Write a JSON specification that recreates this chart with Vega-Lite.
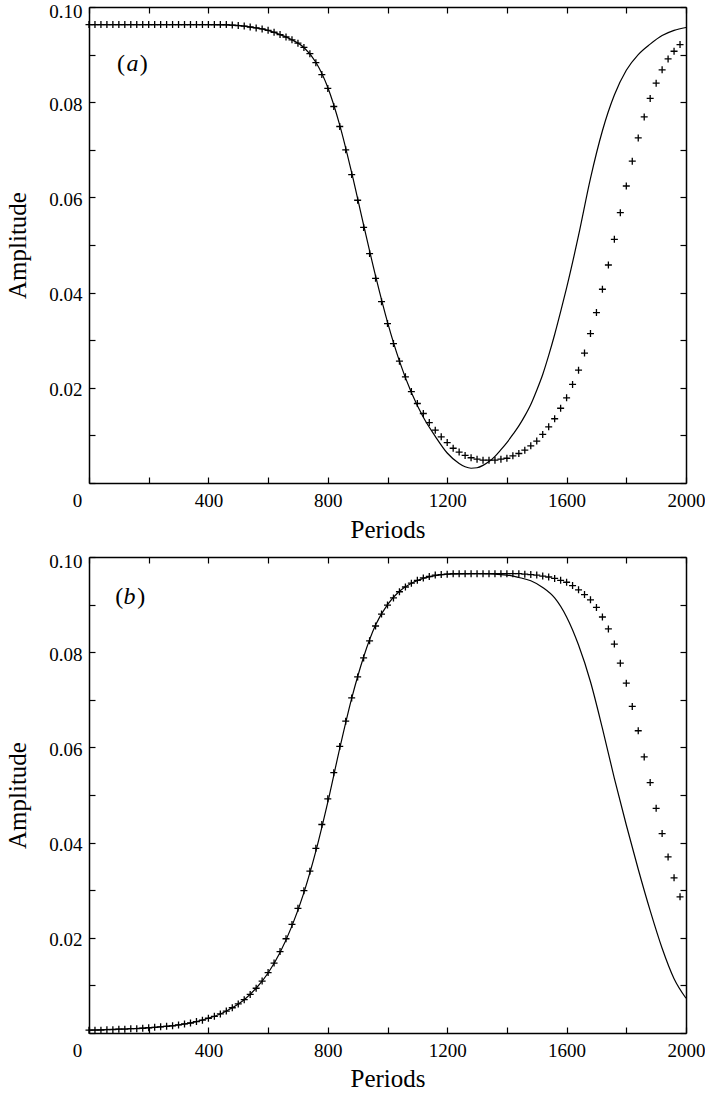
{
  "$schema": "https://vega.github.io/schema/vega-lite/v6.json",
  "background": "white",
  "padding": {"left": 5, "top": 2, "right": 0, "bottom": 0},
  "spacing": 74,
  "bounds": "flush",
  "config": {
    "font": "Liberation Serif",
    "view": {"stroke": null},
    "axis": {
      "labelFont": "Liberation Serif",
      "titleFont": "Liberation Serif",
      "labelFontSize": 19,
      "titleFontSize": 25,
      "titleFontWeight": "normal",
      "labelColor": "black",
      "titleColor": "black",
      "domainColor": "black",
      "domainWidth": 1.5,
      "tickColor": "black",
      "tickWidth": 1.2,
      "tickSize": -6,
      "grid": false,
      "labelFlush": false,
      "labelOverlap": false
    }
  },
  "datasets": {
    "a_line": [
      {"period": 0, "amp": 0.0963}, {"period": 200, "amp": 0.0963}, {"period": 400, "amp": 0.0963},
      {"period": 480, "amp": 0.0962}, {"period": 520, "amp": 0.0960}, {"period": 560, "amp": 0.0956},
      {"period": 600, "amp": 0.0951}, {"period": 640, "amp": 0.0942}, {"period": 680, "amp": 0.0931},
      {"period": 720, "amp": 0.0915}, {"period": 760, "amp": 0.0884}, {"period": 800, "amp": 0.0831},
      {"period": 840, "amp": 0.0752}, {"period": 880, "amp": 0.0652}, {"period": 920, "amp": 0.0542},
      {"period": 960, "amp": 0.0435}, {"period": 1000, "amp": 0.0338}, {"period": 1040, "amp": 0.0256},
      {"period": 1080, "amp": 0.0190}, {"period": 1120, "amp": 0.0138}, {"period": 1160, "amp": 0.0098},
      {"period": 1200, "amp": 0.0063}, {"period": 1240, "amp": 0.0041}, {"period": 1260, "amp": 0.0034},
      {"period": 1280, "amp": 0.0031}, {"period": 1300, "amp": 0.0032}, {"period": 1320, "amp": 0.0037},
      {"period": 1340, "amp": 0.0045}, {"period": 1360, "amp": 0.0056}, {"period": 1380, "amp": 0.0070},
      {"period": 1400, "amp": 0.0085}, {"period": 1420, "amp": 0.0102}, {"period": 1440, "amp": 0.0120},
      {"period": 1460, "amp": 0.0141}, {"period": 1480, "amp": 0.0165}, {"period": 1500, "amp": 0.0195},
      {"period": 1520, "amp": 0.0228}, {"period": 1540, "amp": 0.0268}, {"period": 1560, "amp": 0.0312},
      {"period": 1580, "amp": 0.0360}, {"period": 1600, "amp": 0.0410}, {"period": 1640, "amp": 0.0520},
      {"period": 1680, "amp": 0.0640}, {"period": 1720, "amp": 0.0740}, {"period": 1760, "amp": 0.0815},
      {"period": 1800, "amp": 0.0867}, {"period": 1840, "amp": 0.0900}, {"period": 1880, "amp": 0.0922},
      {"period": 1920, "amp": 0.0940}, {"period": 1960, "amp": 0.0951}, {"period": 2000, "amp": 0.0957}
    ],
    "a_pts": [
      {"period": 0, "amp": 0.0963}, {"period": 20, "amp": 0.0963}, {"period": 40, "amp": 0.0963}, {"period": 60, "amp": 0.0963},
      {"period": 80, "amp": 0.0963}, {"period": 100, "amp": 0.0963}, {"period": 120, "amp": 0.0963}, {"period": 140, "amp": 0.0963},
      {"period": 160, "amp": 0.0963}, {"period": 180, "amp": 0.0963}, {"period": 200, "amp": 0.0963}, {"period": 220, "amp": 0.0963},
      {"period": 240, "amp": 0.0963}, {"period": 260, "amp": 0.0963}, {"period": 280, "amp": 0.0963}, {"period": 300, "amp": 0.0963},
      {"period": 320, "amp": 0.0963}, {"period": 340, "amp": 0.0963}, {"period": 360, "amp": 0.0963}, {"period": 380, "amp": 0.0963},
      {"period": 400, "amp": 0.0963}, {"period": 420, "amp": 0.0963}, {"period": 440, "amp": 0.0963}, {"period": 460, "amp": 0.0963},
      {"period": 480, "amp": 0.0962}, {"period": 500, "amp": 0.0961}, {"period": 520, "amp": 0.0960}, {"period": 540, "amp": 0.0958},
      {"period": 560, "amp": 0.0956}, {"period": 580, "amp": 0.0954}, {"period": 600, "amp": 0.0951}, {"period": 620, "amp": 0.0947},
      {"period": 640, "amp": 0.0942}, {"period": 660, "amp": 0.0937}, {"period": 680, "amp": 0.0931}, {"period": 700, "amp": 0.0924},
      {"period": 720, "amp": 0.0915}, {"period": 740, "amp": 0.0902}, {"period": 760, "amp": 0.0883}, {"period": 780, "amp": 0.0858},
      {"period": 800, "amp": 0.0829}, {"period": 820, "amp": 0.0791}, {"period": 840, "amp": 0.0749}, {"period": 860, "amp": 0.0700},
      {"period": 880, "amp": 0.0648}, {"period": 900, "amp": 0.0594}, {"period": 920, "amp": 0.0537}, {"period": 940, "amp": 0.0482},
      {"period": 960, "amp": 0.0430}, {"period": 980, "amp": 0.0381}, {"period": 1000, "amp": 0.0335}, {"period": 1020, "amp": 0.0293},
      {"period": 1040, "amp": 0.0256}, {"period": 1060, "amp": 0.0223}, {"period": 1080, "amp": 0.0192}, {"period": 1100, "amp": 0.0167},
      {"period": 1120, "amp": 0.0146}, {"period": 1140, "amp": 0.0127}, {"period": 1160, "amp": 0.0111}, {"period": 1180, "amp": 0.0097},
      {"period": 1200, "amp": 0.0085}, {"period": 1220, "amp": 0.0073}, {"period": 1240, "amp": 0.0065}, {"period": 1260, "amp": 0.0058},
      {"period": 1280, "amp": 0.0053}, {"period": 1300, "amp": 0.0050}, {"period": 1320, "amp": 0.0048}, {"period": 1340, "amp": 0.0048},
      {"period": 1360, "amp": 0.0048}, {"period": 1380, "amp": 0.0050}, {"period": 1400, "amp": 0.0052}, {"period": 1420, "amp": 0.0057},
      {"period": 1440, "amp": 0.0062}, {"period": 1460, "amp": 0.0069}, {"period": 1480, "amp": 0.0078}, {"period": 1500, "amp": 0.0088},
      {"period": 1520, "amp": 0.0102}, {"period": 1540, "amp": 0.0118}, {"period": 1560, "amp": 0.0135}, {"period": 1580, "amp": 0.0157},
      {"period": 1600, "amp": 0.0179}, {"period": 1620, "amp": 0.0207}, {"period": 1640, "amp": 0.0237}, {"period": 1660, "amp": 0.0273},
      {"period": 1680, "amp": 0.0314}, {"period": 1700, "amp": 0.0358}, {"period": 1720, "amp": 0.0407}, {"period": 1740, "amp": 0.0458},
      {"period": 1760, "amp": 0.0512}, {"period": 1780, "amp": 0.0568}, {"period": 1800, "amp": 0.0624}, {"period": 1820, "amp": 0.0676},
      {"period": 1840, "amp": 0.0725}, {"period": 1860, "amp": 0.0769}, {"period": 1880, "amp": 0.0808}, {"period": 1900, "amp": 0.0840},
      {"period": 1920, "amp": 0.0868}, {"period": 1940, "amp": 0.0891}, {"period": 1960, "amp": 0.0907}, {"period": 1980, "amp": 0.0921}
    ],
    "b_line": [
      {"period": 0, "amp": 0.0006}, {"period": 100, "amp": 0.0008}, {"period": 200, "amp": 0.0011},
      {"period": 300, "amp": 0.0017}, {"period": 360, "amp": 0.0024}, {"period": 400, "amp": 0.0031},
      {"period": 440, "amp": 0.0040}, {"period": 480, "amp": 0.0053}, {"period": 520, "amp": 0.0070},
      {"period": 560, "amp": 0.0094}, {"period": 600, "amp": 0.0126}, {"period": 640, "amp": 0.0169},
      {"period": 680, "amp": 0.0225}, {"period": 720, "amp": 0.0295}, {"period": 760, "amp": 0.0382},
      {"period": 800, "amp": 0.0485}, {"period": 840, "amp": 0.0598}, {"period": 880, "amp": 0.0703},
      {"period": 920, "amp": 0.0790}, {"period": 960, "amp": 0.0857}, {"period": 1000, "amp": 0.0900},
      {"period": 1040, "amp": 0.0928}, {"period": 1080, "amp": 0.0945}, {"period": 1120, "amp": 0.0955},
      {"period": 1160, "amp": 0.0961}, {"period": 1200, "amp": 0.0964}, {"period": 1300, "amp": 0.0965},
      {"period": 1400, "amp": 0.0962}, {"period": 1440, "amp": 0.0957}, {"period": 1480, "amp": 0.0950},
      {"period": 1520, "amp": 0.0936}, {"period": 1560, "amp": 0.0914}, {"period": 1600, "amp": 0.0874},
      {"period": 1640, "amp": 0.0815}, {"period": 1680, "amp": 0.0738}, {"period": 1720, "amp": 0.0640},
      {"period": 1760, "amp": 0.0535}, {"period": 1800, "amp": 0.0437}, {"period": 1840, "amp": 0.0344},
      {"period": 1880, "amp": 0.0257}, {"period": 1920, "amp": 0.0178}, {"period": 1960, "amp": 0.0114},
      {"period": 2000, "amp": 0.0073}
    ],
    "b_pts": [
      {"period": 0, "amp": 0.0006}, {"period": 20, "amp": 0.0006}, {"period": 40, "amp": 0.0006}, {"period": 60, "amp": 0.0007},
      {"period": 80, "amp": 0.0007}, {"period": 100, "amp": 0.0008}, {"period": 120, "amp": 0.0008}, {"period": 140, "amp": 0.0009},
      {"period": 160, "amp": 0.0009}, {"period": 180, "amp": 0.0010}, {"period": 200, "amp": 0.0011}, {"period": 220, "amp": 0.0012},
      {"period": 240, "amp": 0.0013}, {"period": 260, "amp": 0.0014}, {"period": 280, "amp": 0.0015}, {"period": 300, "amp": 0.0017},
      {"period": 320, "amp": 0.0019}, {"period": 340, "amp": 0.0021}, {"period": 360, "amp": 0.0024}, {"period": 380, "amp": 0.0027},
      {"period": 400, "amp": 0.0031}, {"period": 420, "amp": 0.0035}, {"period": 440, "amp": 0.0040}, {"period": 460, "amp": 0.0046},
      {"period": 480, "amp": 0.0053}, {"period": 500, "amp": 0.0061}, {"period": 520, "amp": 0.0070}, {"period": 540, "amp": 0.0081},
      {"period": 560, "amp": 0.0094}, {"period": 580, "amp": 0.0109}, {"period": 600, "amp": 0.0127}, {"period": 620, "amp": 0.0147},
      {"period": 640, "amp": 0.0171}, {"period": 660, "amp": 0.0198}, {"period": 680, "amp": 0.0228}, {"period": 700, "amp": 0.0262},
      {"period": 720, "amp": 0.0299}, {"period": 740, "amp": 0.0340}, {"period": 760, "amp": 0.0388}, {"period": 780, "amp": 0.0438},
      {"period": 800, "amp": 0.0492}, {"period": 820, "amp": 0.0547}, {"period": 840, "amp": 0.0602}, {"period": 860, "amp": 0.0655},
      {"period": 880, "amp": 0.0704}, {"period": 900, "amp": 0.0748}, {"period": 920, "amp": 0.0788}, {"period": 940, "amp": 0.0824},
      {"period": 960, "amp": 0.0855}, {"period": 980, "amp": 0.0880}, {"period": 1000, "amp": 0.0899}, {"period": 1020, "amp": 0.0914},
      {"period": 1040, "amp": 0.0927}, {"period": 1060, "amp": 0.0937}, {"period": 1080, "amp": 0.0945}, {"period": 1100, "amp": 0.0951},
      {"period": 1120, "amp": 0.0956}, {"period": 1140, "amp": 0.0959}, {"period": 1160, "amp": 0.0962}, {"period": 1180, "amp": 0.0963},
      {"period": 1200, "amp": 0.0964}, {"period": 1220, "amp": 0.0965}, {"period": 1240, "amp": 0.0965}, {"period": 1260, "amp": 0.0965},
      {"period": 1280, "amp": 0.0965}, {"period": 1300, "amp": 0.0965}, {"period": 1320, "amp": 0.0965}, {"period": 1340, "amp": 0.0965},
      {"period": 1360, "amp": 0.0965}, {"period": 1380, "amp": 0.0965}, {"period": 1400, "amp": 0.0965}, {"period": 1420, "amp": 0.0965},
      {"period": 1440, "amp": 0.0965}, {"period": 1460, "amp": 0.0964}, {"period": 1480, "amp": 0.0963}, {"period": 1500, "amp": 0.0962},
      {"period": 1520, "amp": 0.0960}, {"period": 1540, "amp": 0.0958}, {"period": 1560, "amp": 0.0955}, {"period": 1580, "amp": 0.0951},
      {"period": 1600, "amp": 0.0947}, {"period": 1620, "amp": 0.0940}, {"period": 1640, "amp": 0.0931}, {"period": 1660, "amp": 0.0921},
      {"period": 1680, "amp": 0.0910}, {"period": 1700, "amp": 0.0894}, {"period": 1720, "amp": 0.0874}, {"period": 1740, "amp": 0.0849},
      {"period": 1760, "amp": 0.0817}, {"period": 1780, "amp": 0.0777}, {"period": 1800, "amp": 0.0735}, {"period": 1820, "amp": 0.0686},
      {"period": 1840, "amp": 0.0635}, {"period": 1860, "amp": 0.0580}, {"period": 1880, "amp": 0.0526}, {"period": 1900, "amp": 0.0472},
      {"period": 1920, "amp": 0.0419}, {"period": 1940, "amp": 0.0370}, {"period": 1960, "amp": 0.0326}, {"period": 1980, "amp": 0.0286}
    ],
    "a_paren": [{"period": 107, "amp": 0.0881, "t": "("}, {"period": 183, "amp": 0.0881, "t": ")"}],
    "a_letter": [{"period": 146, "amp": 0.0881, "t": "a"}],
    "b_paren": [{"period": 101, "amp": 0.0917, "t": "("}, {"period": 175, "amp": 0.0917, "t": ")"}],
    "b_letter": [{"period": 136, "amp": 0.0917, "t": "b"}]
  },
  "vconcat": [
    {
      "width": 597,
      "height": 476,
      "layer": [
        {
          "data": {"name": "a_line"},
          "mark": {"type": "line", "color": "black", "strokeWidth": 1.2, "interpolate": "monotone"},
          "encoding": {
            "x": {
              "field": "period", "type": "quantitative",
              "scale": {"domain": [0, 2000], "nice": false},
              "axis": {
                "orient": "bottom", "title": "Periods", "format": "d",
                "values": [0, 200, 400, 600, 800, 1000, 1200, 1400, 1600, 1800, 2000],
                "labelExpr": "datum.value % 400 === 0 ? datum.label : ''",
                "labelPadding": 14,
                "labelOffset": {"condition": {"test": "datum.value === 0", "value": -12}, "value": 0},
                "titleY": 54, "titleBaseline": "alphabetic"
              }
            },
            "y": {
              "field": "amp", "type": "quantitative",
              "scale": {"domain": [0, 0.1], "nice": false},
              "axis": {
                "orient": "left", "title": "Amplitude", "format": ".2f",
                "values": [0, 0.01, 0.02, 0.03, 0.04, 0.05, 0.06, 0.07, 0.08, 0.09, 0.1],
                "labelExpr": "datum.value > 0.005 && round(datum.value * 100) % 2 === 0 ? datum.label : ''",
                "labelPadding": 13,
                "labelOffset": {"condition": {"test": "datum.value > 0.095", "value": 4}, "value": 2},
                "titleX": -72, "titleBaseline": "middle"
              }
            }
          }
        },
        {
          "data": {"name": "a_pts"},
          "mark": {"type": "point", "shape": "M-1,0H1M0,-1V1", "size": 49, "filled": false, "color": "black", "strokeWidth": 1.3, "opacity": 1},
          "encoding": {
            "x": {
              "field": "period", "type": "quantitative",
              "axis": {"orient": "top", "labels": false, "title": null, "values": [0, 200, 400, 600, 800, 1000, 1200, 1400, 1600, 1800, 2000]}
            },
            "y": {
              "field": "amp", "type": "quantitative",
              "axis": {"orient": "right", "labels": false, "title": null, "values": [0, 0.01, 0.02, 0.03, 0.04, 0.05, 0.06, 0.07, 0.08, 0.09, 0.1]}
            }
          }
        },
        {
          "data": {"name": "a_paren"},
          "mark": {"type": "text", "fontSize": 24, "font": "Liberation Serif", "baseline": "middle", "color": "black"},
          "encoding": {
            "x": {"field": "period", "type": "quantitative", "axis": null},
            "y": {"field": "amp", "type": "quantitative", "axis": null},
            "text": {"field": "t"}
          }
        },
        {
          "data": {"name": "a_letter"},
          "mark": {"type": "text", "fontSize": 24, "font": "Liberation Serif", "fontStyle": "italic", "baseline": "middle", "color": "black"},
          "encoding": {
            "x": {"field": "period", "type": "quantitative", "axis": null},
            "y": {"field": "amp", "type": "quantitative", "axis": null},
            "text": {"field": "t"}
          }
        }
      ],
      "resolve": {"axis": {"x": "independent", "y": "independent"}}
    },
    {
      "width": 597,
      "height": 476,
      "layer": [
        {
          "data": {"name": "b_line"},
          "mark": {"type": "line", "color": "black", "strokeWidth": 1.2, "interpolate": "monotone"},
          "encoding": {
            "x": {
              "field": "period", "type": "quantitative",
              "scale": {"domain": [0, 2000], "nice": false},
              "axis": {
                "orient": "bottom", "title": "Periods", "format": "d",
                "values": [0, 200, 400, 600, 800, 1000, 1200, 1400, 1600, 1800, 2000],
                "labelExpr": "datum.value % 400 === 0 ? datum.label : ''",
                "labelPadding": 14,
                "labelOffset": {"condition": {"test": "datum.value === 0", "value": -12}, "value": 0},
                "titleY": 53, "titleBaseline": "alphabetic"
              }
            },
            "y": {
              "field": "amp", "type": "quantitative",
              "scale": {"domain": [0, 0.1], "nice": false},
              "axis": {
                "orient": "left", "title": "Amplitude", "format": ".2f",
                "values": [0, 0.01, 0.02, 0.03, 0.04, 0.05, 0.06, 0.07, 0.08, 0.09, 0.1],
                "labelExpr": "datum.value > 0.005 && round(datum.value * 100) % 2 === 0 ? datum.label : ''",
                "labelPadding": 13,
                "labelOffset": {"condition": {"test": "datum.value > 0.095", "value": 4}, "value": 2},
                "titleX": -72, "titleBaseline": "middle"
              }
            }
          }
        },
        {
          "data": {"name": "b_pts"},
          "mark": {"type": "point", "shape": "M-1,0H1M0,-1V1", "size": 49, "filled": false, "color": "black", "strokeWidth": 1.3, "opacity": 1},
          "encoding": {
            "x": {
              "field": "period", "type": "quantitative",
              "axis": {"orient": "top", "labels": false, "title": null, "values": [0, 200, 400, 600, 800, 1000, 1200, 1400, 1600, 1800, 2000]}
            },
            "y": {
              "field": "amp", "type": "quantitative",
              "axis": {"orient": "right", "labels": false, "title": null, "values": [0, 0.01, 0.02, 0.03, 0.04, 0.05, 0.06, 0.07, 0.08, 0.09, 0.1]}
            }
          }
        },
        {
          "data": {"name": "b_paren"},
          "mark": {"type": "text", "fontSize": 24, "font": "Liberation Serif", "baseline": "middle", "color": "black"},
          "encoding": {
            "x": {"field": "period", "type": "quantitative", "axis": null},
            "y": {"field": "amp", "type": "quantitative", "axis": null},
            "text": {"field": "t"}
          }
        },
        {
          "data": {"name": "b_letter"},
          "mark": {"type": "text", "fontSize": 24, "font": "Liberation Serif", "fontStyle": "italic", "baseline": "middle", "color": "black"},
          "encoding": {
            "x": {"field": "period", "type": "quantitative", "axis": null},
            "y": {"field": "amp", "type": "quantitative", "axis": null},
            "text": {"field": "t"}
          }
        }
      ],
      "resolve": {"axis": {"x": "independent", "y": "independent"}}
    }
  ]
}
